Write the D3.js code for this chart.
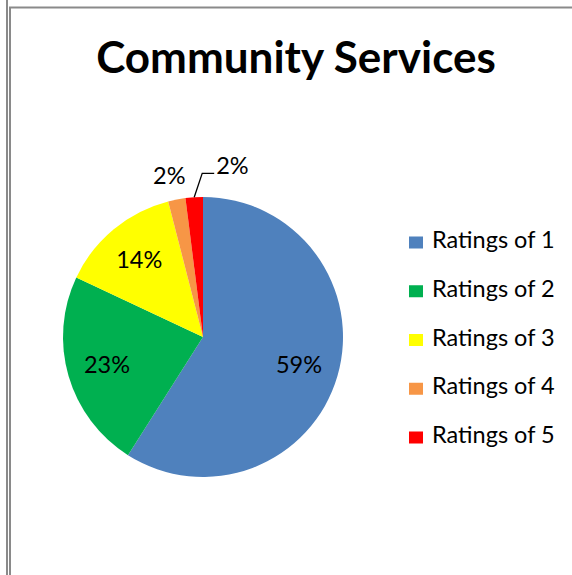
<!DOCTYPE html>
<html>
<head>
<meta charset="utf-8">
<script src="https://cdn.jsdelivr.net/npm/d3@7"></script>
<style>
  html, body { margin: 0; padding: 0; background: #fff; }
  svg { display: block; }
  text { font-family: Lato, "Open Sans", sans-serif; fill: #000; }
</style>
</head>
<body>
<svg id="chart" width="572" height="575"></svg>
<script>
// Community Services rating distribution
const title = "Community Services";
const categories = ["Ratings of 1", "Ratings of 2", "Ratings of 3", "Ratings of 4", "Ratings of 5"];
const values = [59, 23, 14, 2, 2];
const colors = ["#4f81bd", "#00b050", "#ffff00", "#f79646", "#ff0000"];

const svg = d3.select("#chart");
const W = 572, H = 575;

// frame lines
const frame = svg.append("g").attr("stroke", "#8a8a8a").attr("stroke-width", 2).attr("fill", "none");
frame.append("line").attr("x1", 7).attr("y1", 0).attr("x2", 7).attr("y2", H);
frame.append("line").attr("x1", 10).attr("y1", 7.5).attr("x2", 10).attr("y2", H);
frame.append("line").attr("x1", 9).attr("y1", 7.5).attr("x2", W).attr("y2", 7.5);

// title
svg.append("text")
  .attr("x", 296).attr("y", 73)
  .attr("text-anchor", "middle")
  .style("font-weight", "bold")
  .style("font-size", "44px")
  .text(title);

// pie
const cx = 203, cy = 337, r = 140;
const total = d3.sum(values);
const pie = d3.pie().sort(null).value(d => d)(values);
const arc = d3.arc().innerRadius(0).outerRadius(r);
const labelArc = d3.arc().innerRadius(100).outerRadius(100);
const color = d3.scaleOrdinal().domain(categories).range(colors);

const g = svg.append("g").attr("transform", `translate(${cx},${cy})`);
g.selectAll("path.slice")
  .data(pie)
  .join("path")
  .attr("class", "slice")
  .attr("d", arc)
  .attr("fill", (d, i) => color(categories[i]));

const fmt = v => Math.round(v / total * 100) + "%";
const small = d => (d.endAngle - d.startAngle) < 0.3;
const labelSize = "23.5px";

// inside labels
g.selectAll("text.inlab")
  .data(pie.filter(d => !small(d)))
  .join("text")
  .attr("class", "inlab")
  .attr("text-anchor", "middle")
  .style("font-size", labelSize)
  .attr("x", d => labelArc.centroid(d)[0])
  .attr("y", d => labelArc.centroid(d)[1] + 8)
  .text(d => fmt(d.value));

// outside labels for the thin slices
const smallSlices = pie.filter(small);
smallSlices.forEach((d, k) => {
  const mid = (d.startAngle + d.endAngle) / 2;
  const px = Math.sin(mid) * r, py = -Math.cos(mid) * r;
  if (k === 0) {
    const lx = Math.sin(mid) * (r + 24), ly = -Math.cos(mid) * (r + 24);
    g.append("text").attr("text-anchor", "middle").style("font-size", labelSize)
      .attr("x", lx - 3).attr("y", ly + 8).text(fmt(d.value));
  } else {
    const ex = px + 8, ey = py - 24;
    g.append("path")
      .attr("d", `M${px},${py}L${ex},${ey}L${ex + 12},${ey}`)
      .attr("stroke", "#000").attr("stroke-width", 1.3).attr("fill", "none");
    g.append("text").attr("text-anchor", "start").style("font-size", labelSize)
      .attr("x", ex + 14).attr("y", ey + 1).text(fmt(d.value));
  }
});

// legend
const legend = svg.append("g").attr("transform", "translate(409,0)");
const ly = d3.scalePoint().domain(categories).range([248, 443]);
const items = legend.selectAll("g.item").data(categories).join("g").attr("class", "item")
  .attr("transform", d => `translate(0,${ly(d)})`);
items.append("rect").attr("x", 0).attr("y", -11.5).attr("width", 14).attr("height", 12)
  .attr("fill", d => color(d));
items.append("text").attr("x", 23).attr("y", 0).style("font-size", "23.5px").text(d => d);
</script>
</body>
</html>
